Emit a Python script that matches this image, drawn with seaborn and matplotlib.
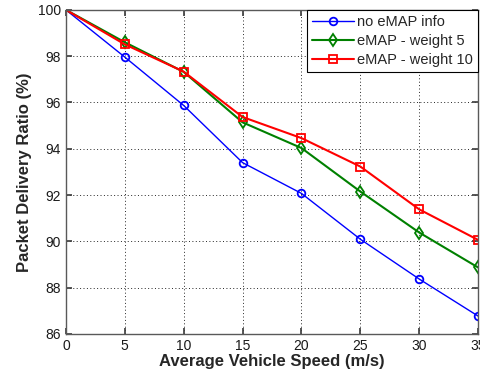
"""
Packet delivery ratio vs. average vehicle speed, MATLAB-style line chart.
"""
import pandas as pd
import matplotlib
matplotlib.use("Agg")
import matplotlib.pyplot as plt
import seaborn as sns

# data
speed = [0, 5, 10, 15, 20, 25, 30, 35]
no_emap = [100, 97.96, 95.87, 93.40, 92.07, 90.09, 88.37, 86.77]
emap_w5 = [100, 98.60, 97.32, 95.14, 94.03, 92.15, 90.38, 88.87]
emap_w10 = [100, 98.51, 97.33, 95.37, 94.46, 93.23, 91.38, 90.06]

series_names = ["no eMAP info", "eMAP - weight 5", "eMAP - weight 10"]
x_ticks = [0, 5, 10, 15, 20, 25, 30, 35]
y_ticks = [86, 88, 90, 92, 94, 96, 98, 100]

sns.set_theme(style="white")
plt.rcParams["font.family"] = ["Liberation Sans", "DejaVu Sans"]

fig = plt.figure(figsize=(4.81, 3.79), dpi=100)
ax = fig.add_axes([0.137, 0.119, 0.857, 0.855])

styles = [
    (no_emap, "#0000ff", "o", 1.0, 5.5),
    (emap_w5, "#008000", "d", 1.5, 6),
    (emap_w10, "#ff0000", "s", 1.5, 6),
]
# no marker on the first point (speed 0)
marked = list(range(1, len(speed)))
for name, (vals, color, marker, lw, ms) in zip(series_names, styles):
    df = pd.DataFrame({"speed": speed, "pdr": vals})
    sns.lineplot(data=df, x="speed", y="pdr", ax=ax, color=color, lw=lw,
                 marker=marker, markersize=ms, markevery=marked,
                 markerfacecolor="none", markeredgecolor=color,
                 markeredgewidth=1.3, label=name)

ax.set_xlim(0, 35)
ax.set_ylim(86, 100)
ax.set_xticks(x_ticks)
ax.set_yticks(y_ticks)
ax.tick_params(direction="in", length=4, labelsize=10, colors="0.25",
               top=True, right=True, left=True, bottom=True)
for lab in ax.get_xticklabels() + ax.get_yticklabels():
    lab.set_color("0.1")
ax.grid(True, linestyle=(0, (1, 2.5)), color="0.15", linewidth=0.7)
for sp in ax.spines.values():
    sp.set_color("0.35")
    sp.set_linewidth(1.0)

ax.set_xlabel("Average Vehicle Speed (m/s)", fontsize=12, fontweight="bold",
              labelpad=1)
ax.set_ylabel("Packet Delivery Ratio (%)", fontsize=12, fontweight="bold",
              labelpad=4)

leg = ax.legend(loc="upper right", fancybox=False, framealpha=1,
                edgecolor="black", fontsize=10.5, borderaxespad=0,
                handlelength=2.9, handletextpad=0.2, labelspacing=0.35,
                borderpad=0.35)
leg.get_frame().set_linewidth(0.8)

fig.savefig("out.png", dpi=100)
